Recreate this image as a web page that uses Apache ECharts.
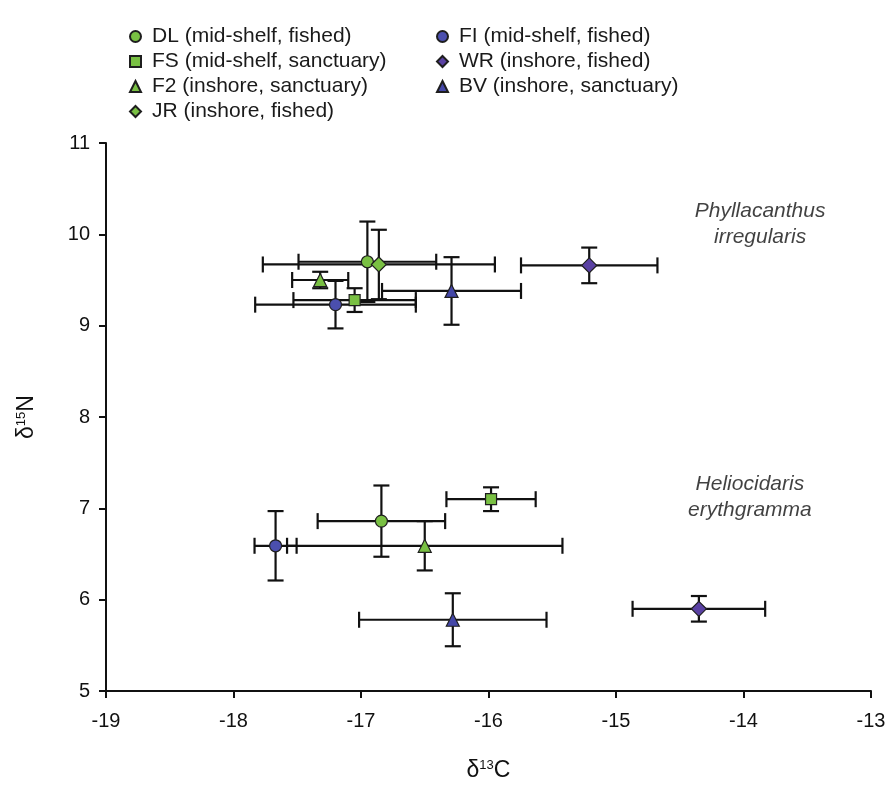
<!DOCTYPE html>
<html lang="en">
<head>
    <meta charset="UTF-8">
    <title>d13C vs d15N</title>
    <style>
        html, body { margin: 0; padding: 0; background: #fff; }
        .chart { width: 892px; height: 787px; }
    </style>
    <script src="https://cdn.jsdelivr.net/npm/echarts@6/dist/echarts.min.js"></script>
</head>
<body>
<div class="chart"></div>
<script>
    // sites and legend text
    var sites = ['DL', 'FS', 'F2', 'JR', 'FI', 'WR', 'BV'];
    var siteLabels = [
        'DL (mid-shelf, fished)',
        'FS (mid-shelf, sanctuary)',
        'F2 (inshore, sanctuary)',
        'JR (inshore, fished)',
        'FI (mid-shelf, fished)',
        'WR (inshore, fished)',
        'BV (inshore, sanctuary)'
    ];
    var symbols = ['circle', 'rect', 'triangle', 'diamond', 'circle', 'diamond', 'triangle'];
    var colors = ['#79c043', '#79c043', '#79c043', '#79c043', '#4b4fae', '#5a41a3', '#4447a8'];

    // Phyllacanthus irregularis (mean, error)
    var phyllC = [-16.95, -17.05, -17.32, -16.86, -17.20, -15.21, -16.29];
    var phyllN = [9.70, 9.28, 9.50, 9.67, 9.23, 9.66, 9.38];
    var phyllCerr = [0.54, 0.48, 0.22, 0.91, 0.63, 0.535, 0.545];
    var phyllNerr = [0.44, 0.13, 0.09, 0.38, 0.26, 0.195, 0.37];

    // Heliocidaris erythgramma (mean, error)
    var helioC = [-16.84, -15.98, -16.50, null, -17.67, -14.35, -16.28];
    var helioN = [6.86, 7.10, 6.59, null, 6.59, 5.90, 5.78];
    var helioCerr = [0.50, 0.35, 1.08, null, 0.165, 0.52, 0.735];
    var helioNerr = [0.39, 0.13, 0.27, null, 0.38, 0.14, 0.29];

    // species labels
    var speciesNames = ['Phyllacanthus\nirregularis', 'Heliocidaris\nerythgramma'];
    var speciesC = [-13.87, -13.95];
    var speciesN = [10.11, 7.12];

    var xTicks = [-19, -18, -17, -16, -15, -14, -13];
    var yTicks = [5, 6, 7, 8, 9, 10, 11];

    var font = '"Liberation Sans", Arial, sans-serif';
    var symbolSizes = {circle: 12, rect: 11, triangle: 13, diamond: 15};

    // error bars with caps
    function renderErr(params, api) {
        var x = api.value(0), y = api.value(1), xe = api.value(2), ye = api.value(3);
        var c = api.coord([x, y]);
        var l = api.coord([x - xe, y])[0];
        var r = api.coord([x + xe, y])[0];
        var t = api.coord([x, y + ye])[1];
        var b = api.coord([x, y - ye])[1];
        var cap = 8;
        var st = {stroke: '#111', lineWidth: 2.2};
        return {
            type: 'group',
            children: [
                {type: 'line', shape: {x1: l, y1: c[1], x2: r, y2: c[1]}, style: st},
                {type: 'line', shape: {x1: l, y1: c[1] - cap, x2: l, y2: c[1] + cap}, style: st},
                {type: 'line', shape: {x1: r, y1: c[1] - cap, x2: r, y2: c[1] + cap}, style: st},
                {type: 'line', shape: {x1: c[0], y1: t, x2: c[0], y2: b}, style: st},
                {type: 'line', shape: {x1: c[0] - cap, y1: t, x2: c[0] + cap, y2: t}, style: st},
                {type: 'line', shape: {x1: c[0] - cap, y1: b, x2: c[0] + cap, y2: b}, style: st}
            ]
        };
    }

    var series = [];
    for (var i = 0; i < sites.length; i++) {
        var pts = [];
        var errs = [];
        pts.push([phyllC[i], phyllN[i]]);
        errs.push([phyllC[i], phyllN[i], phyllCerr[i], phyllNerr[i]]);
        if (helioC[i] !== null) {
            pts.push([helioC[i], helioN[i]]);
            errs.push([helioC[i], helioN[i], helioCerr[i], helioNerr[i]]);
        }
        series.push({
            name: sites[i] + '-err',
            type: 'custom',
            renderItem: renderErr,
            encode: {x: 0, y: 1},
            data: errs,
            z: 2,
            silent: true
        });
        series.push({
            name: siteLabels[i],
            type: 'scatter',
            symbol: symbols[i],
            symbolSize: symbolSizes[symbols[i]],
            itemStyle: {color: colors[i], borderColor: '#1e1e1e', borderWidth: 1.2, opacity: 1},
            data: pts,
            z: 3
        });
    }

    var labelData = [];
    for (var k = 0; k < speciesNames.length; k++) {
        labelData.push({value: [speciesC[k], speciesN[k]], name: speciesNames[k]});
    }
    series.push({
        type: 'scatter',
        symbolSize: 0,
        silent: true,
        data: labelData,
        label: {
            show: true,
            position: 'inside',
            formatter: '{b}',
            fontFamily: font,
            fontStyle: 'italic',
            fontSize: 21,
            lineHeight: 26,
            color: '#111',
            align: 'center'
        }
    });

    var legendStyle = {
        orient: 'vertical',
        top: 21,
        itemWidth: 11,
        itemHeight: 11,
        itemGap: 4,
        textStyle: {fontFamily: font, fontSize: 21, color: '#1a1a1a', padding: [0, 0, 0, 6]},
        selectedMode: false
    };

    var chart = echarts.init(document.getElementsByClassName('chart')[0]);
    var option = {
        backgroundColor: '#ffffff',
        animation: false,
        legend: [
            Object.assign({left: 124, data: siteLabels.slice(0, 4)}, legendStyle),
            Object.assign({left: 431, data: siteLabels.slice(4)}, legendStyle)
        ],
        grid: {left: 106, right: 21, top: 143, bottom: 95},
        xAxis: {
            type: 'value',
            min: xTicks[0],
            max: xTicks[xTicks.length - 1],
            interval: 1,
            name: '{d|δ}{s|13}{d|C}',
            nameLocation: 'middle',
            nameGap: 68,
            nameTextStyle: {
                rich: {
                    d: {fontFamily: font, fontSize: 23, color: '#111'},
                    s: {fontFamily: font, fontSize: 13, color: '#111', verticalAlign: 'top', padding: [0, 0, 10, 0]}
                }
            },
            axisLine: {lineStyle: {color: '#111', width: 2}},
            axisTick: {show: true, length: 7, lineStyle: {color: '#111', width: 2}},
            axisLabel: {fontFamily: font, fontSize: 20, color: '#111', margin: 20},
            splitLine: {show: false}
        },
        yAxis: {
            type: 'value',
            min: yTicks[0],
            max: yTicks[yTicks.length - 1],
            interval: 1,
            name: '{d|δ}{s|15}{d|N}',
            nameLocation: 'middle',
            nameRotate: 90,
            nameGap: 68,
            nameTextStyle: {
                rich: {
                    d: {fontFamily: font, fontSize: 23, color: '#111'},
                    s: {fontFamily: font, fontSize: 13, color: '#111', verticalAlign: 'top', padding: [0, 0, 10, 0]}
                }
            },
            axisLine: {show: true, lineStyle: {color: '#111', width: 2}},
            axisTick: {show: true, length: 7, lineStyle: {color: '#111', width: 2}},
            axisLabel: {fontFamily: font, fontSize: 20, color: '#111', margin: 16},
            splitLine: {show: false}
        },
        series: series
    };
    chart.setOption(option);
</script>
</body>
</html>
